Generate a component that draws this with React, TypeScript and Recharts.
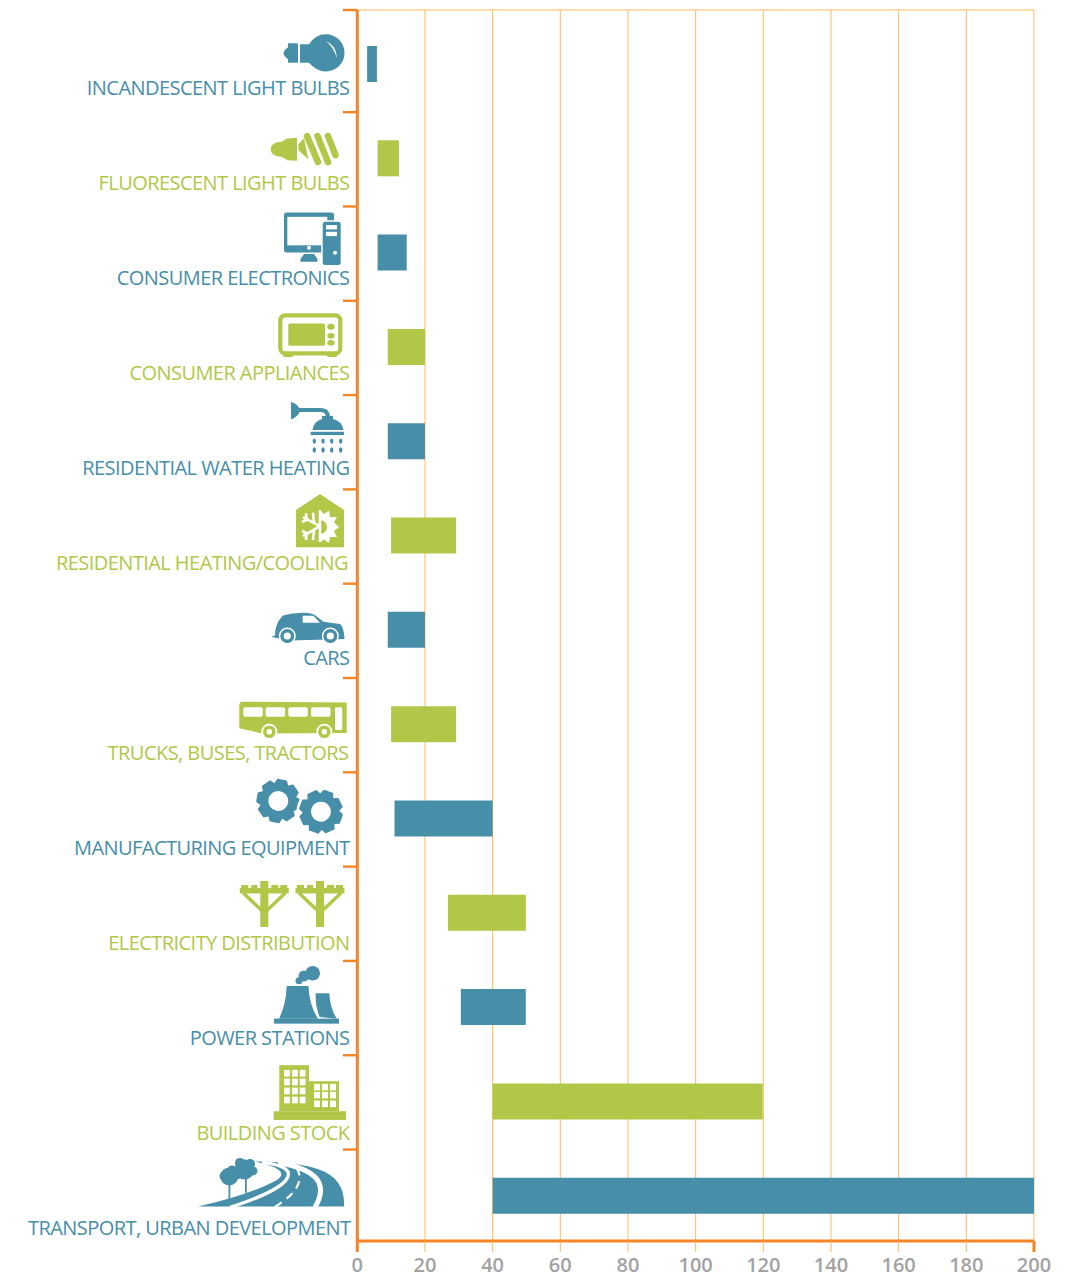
import React from 'react';
import { BarChart, Bar, XAxis, YAxis, CartesianGrid, Cell } from 'recharts';

// Sectors, top to bottom
const sectors = [
  'INCANDESCENT LIGHT BULBS',
  'FLUORESCENT LIGHT BULBS',
  'CONSUMER ELECTRONICS',
  'CONSUMER APPLIANCES',
  'RESIDENTIAL WATER HEATING',
  'RESIDENTIAL HEATING/COOLING',
  'CARS',
  'TRUCKS, BUSES, TRACTORS',
  'MANUFACTURING EQUIPMENT',
  'ELECTRICITY DISTRIBUTION',
  'POWER STATIONS',
  'BUILDING STOCK',
  'TRANSPORT, URBAN DEVELOPMENT',
];
const lowValues = [2.9, 6, 6, 9, 9, 10, 9, 10, 11, 26.8, 30.6, 40, 40];
const highValues = [5.8, 12.3, 14.6, 20, 20, 29.2, 20, 29.2, 40, 49.8, 49.8, 119.8, 200];
const xTicks = [0, 20, 40, 60, 80, 100, 120, 140, 160, 180, 200];

const data = sectors.map((name, i) => ({ name, range: [lowValues[i], highValues[i]] }));

const TEAL = '#478ea8';
const GREEN = '#b1c748';
const ORANGE = '#f58426';
const GRID = '#fdb95c';
const TICK_TEXT = '#a2a2a2';
const FONT = '"Open Sans", sans-serif';

const PLOT_LEFT = 357.3;
const PLOT_TOP = 10;
const PLOT_BOTTOM = 1241;
const BAND_STEP = 94.33;
const FIRST_CENTER = 64;
const LABEL_DRIFT = 0.67; // labels are spaced a little wider than the bars

const colorAt = (i: number) => (i % 2 === 0 ? TEAL : GREEN);

const labelNudge = (i: number) => (i === 5 ? -1.5 : i === 7 ? -1 : i === 12 ? 1 : 0);

const Gear = ({ cx, cy, rot }: { cx: number; cy: number; rot: number }) => (
  <g transform={`translate(${cx} ${cy}) rotate(${rot})`}>
    <circle r={24.5} fill="#fff" />
    {[0, 45, 90, 135, 180, 225, 270, 315].map((a) => (
      <path
        key={a}
        transform={`rotate(${a})`}
        d="M-7 -15 L-4.5 -21 L4.5 -21 L7 -15 Z"
        fill={TEAL}
        stroke={TEAL}
        strokeWidth={1.4}
        strokeLinejoin="round"
      />
    ))}
    <circle r={17.5} fill={TEAL} />
    <circle r={10} fill="#fff" />
  </g>
);

const Pole = ({ cx }: { cx: number }) => (
  <g fill={GREEN} stroke="none">
    <rect x={cx - 4} y={881} width={8} height={46} />
    <rect x={cx - 24.5} y={888} width={49} height={5.5} />
    <rect x={cx - 23} y={885} width={7} height={4} />
    <rect x={cx - 13} y={885} width={6} height={4} />
    <rect x={cx + 7} y={885} width={7} height={4} />
    <rect x={cx + 16} y={885} width={7} height={4} />
    <path d={`M${cx - 21} 893 L${cx - 2} 911`} stroke={GREEN} strokeWidth={3.5} />
    <path d={`M${cx + 21} 893 L${cx + 2} 911`} stroke={GREEN} strokeWidth={3.5} />
  </g>
);

// Icons are drawn in page coordinates of their own band, then shifted with the tick
const icons: React.ReactNode[] = [
  <g key="bulb" fill={TEAL}>
    <path d="M300 44 L309 44 Q316 34 326 34.2 A18.5 18.5 0 1 1 326 71.3 Q316 71 309 62.5 L300 62.5 Z" />
    <rect x={288} y={43} width={10} height={19.5} rx={1} />
    <path d="M288 47 Q283.6 50 283.6 53 Q283.6 56 288 59 Z" />
    <path d="M326 41 Q336 44 337 58 Q333 46 326 41 Z" fill="#fff" />
  </g>,
  <g key="cfl" fill={GREEN}>
    <path d="M297 137.5 L286 138.5 Q283 142 277 142 Q270.7 144 270.7 149 Q270.7 154 277 156 Q283 156 287 160 L297 160.7 Z" />
    <path d="M298.5 144 L304 138 L308.3 159 L298.5 150 Z" />
    <g stroke={GREEN} strokeWidth={6.5} strokeLinecap="round">
      <path d="M307 136 L318 162" />
      <path d="M317.5 136 L328 162" />
      <path d="M328 136 L335.5 155" />
    </g>
  </g>,
  <g key="pc" fill={TEAL}>
    <rect x={284} y={212.3} width={50} height={40} rx={2.5} />
    <rect x={287.3} y={216.7} width={40} height={28.5} fill="#fff" />
    <circle cx={309} cy={247.7} r={2} fill="#fff" />
    <path d="M304 254 L314 254 L317.5 259 L317.5 261.7 L300.5 261.7 L300.5 259 Z" />
    <rect x={321.2} y={220.2} width={21} height={46.5} rx={2.5} fill="#fff" />
    <rect x={322.7} y={221.7} width={18} height={43.3} rx={2.5} />
    <rect x={326} y={225} width={11} height={4.3} fill="#fff" />
    <rect x={326} y={231.7} width={11} height={4.3} fill="#fff" />
    <circle cx={335} cy={252.7} r={2} fill="#fff" />
  </g>,
  <g key="microwave" fill={GREEN}>
    <rect x={280.3} y={315.3} width={60} height={38} rx={5} fill="none" stroke={GREEN} strokeWidth={4.2} />
    <rect x={288.3} y={323.3} width={36.7} height={22.4} rx={1.5} />
    <ellipse cx={331} cy={326.7} rx={3.7} ry={3} />
    <ellipse cx={331} cy={335.7} rx={3.7} ry={2.8} />
    <ellipse cx={331} cy={342.7} rx={3.7} ry={2.8} />
    <rect x={283} y={354} width={10} height={3} rx={1.5} />
    <rect x={327} y={354} width={10} height={3} rx={1.5} />
  </g>,
  <g key="shower" fill={TEAL}>
    <path d="M291 402 Q296 403 299.3 408 L299.3 413 Q296 418 291 419.3 Z" />
    <path d="M298 410 L321 410 Q328 410 328 418" fill="none" stroke={TEAL} strokeWidth={4} />
    <path d="M312.5 430 Q314 421 322 419 L322 416 L333 416 L333 419 Q342 421 343.5 430 Z" />
    <rect x={310.7} y={431.7} width={33.3} height={3.3} />
    {[314.3, 323, 331.7, 340.7].map((x) => (
      <g key={x}>
        <ellipse cx={x} cy={441} rx={1.7} ry={2.6} />
        <ellipse cx={x} cy={450} rx={1.7} ry={2.8} />
      </g>
    ))}
  </g>,
  <g key="house">
    <path d="M296 547.3 L296 510 L320 494 L344 510 L344 547.3 Z" fill={GREEN} />
    <path
      d="M320 510 L324 514 L329 510.5 L330 517 L337 517 L334 522.5 L339 527 L334 531 L337 537 L330 537 L329 543 L324 539.5 L320 542 Z"
      fill="#fff"
    />
    <path d="M320 520 A7 7 0 0 1 320 534 Z" fill={GREEN} />
    <g stroke="#fff" strokeWidth={2.6} fill="none">
      <path d="M320 510 L320 542" />
      <path d="M320 526 L303 517 M320 526 L303 536" />
      <path d="M306 513 L306.5 520 L302 522 M306 540 L306.5 533 L302 531" />
      <path d="M313 512.5 L314 522 M313 540 L314 530" />
    </g>
  </g>,
  <g key="car" fill={TEAL}>
    <path d="M271 636.7 L275 635.5 Q275 623 283 615.5 Q292 612.8 303 612.7 Q310 612.5 314 614.5 L323.5 621.7 L340 624 Q344 627 344.5 639 L290 640.5 L277 638 Z" />
    <path d="M302.7 615.7 L313.3 615.7 L320 622.7 L302.7 622.7 Z" fill="#fff" />
    {[287.3, 330.3].map((x) => (
      <g key={x}>
        <circle cx={x} cy={636} r={8.5} fill="#fff" />
        <circle cx={x} cy={636} r={7} />
        <circle cx={x} cy={636} r={3.6} fill="#fff" />
      </g>
    ))}
  </g>,
  <g key="bus" fill={GREEN}>
    <path d="M241 701.7 L346.7 702.5 L346.7 733 L262 733.5 L239.3 728.3 L239.3 704 Z" />
    {[243.3, 265.7, 288.3, 311].map((x) => (
      <rect key={x} x={x} y={707.3} width={19.5} height={9.5} rx={2} fill="#fff" />
    ))}
    <rect x={335} y={707.3} width={7.3} height={22.7} rx={1.5} fill="#fff" />
    {[269.3, 324.3].map((x) => (
      <g key={x}>
        <circle cx={x} cy={731.7} r={8} fill="#fff" />
        <circle cx={x} cy={731.7} r={6.3} />
        <circle cx={x} cy={731.7} r={2.8} fill="#fff" />
      </g>
    ))}
  </g>,
  <g key="gears">
    <Gear cx={278.3} cy={801} rot={10} />
    <Gear cx={321} cy={811.7} rot={20} />
  </g>,
  <g key="poles">
    <Pole cx={264.3} />
    <Pole cx={320} />
  </g>,
  <g key="plant" fill={TEAL}>
    <rect x={274} y={1018.7} width={65} height={5} />
    <path d="M286.7 986 L308.5 986 Q309 1005 318 1018.7 L279 1018.7 Q286 1005 286.7 986 Z" />
    <path d="M315.7 993.3 L329.3 993.3 Q330 1008 336.7 1018.7 L319.5 1017 Q315 1005 315.7 993.3 Z" />
    <circle cx={312.7} cy={973.3} r={7.3} />
    <circle cx={304} cy={976} r={5.5} />
    <circle cx={299} cy={980.7} r={3.5} />
  </g>,
  <g key="buildings" fill={GREEN}>
    <rect x={273.7} y={1111.3} width={72.3} height={8.7} />
    <rect x={279.3} y={1065.3} width={29.7} height={46} />
    <rect x={309} y={1081.3} width={30} height={30} />
    {[284, 292, 299.7].flatMap((x) =>
      [1070, 1078.7, 1087.7, 1096.7].map((y) => (
        <rect key={`${x}-${y}`} x={x} y={y} width={5.8} height={6.7} fill="#fff" />
      ))
    )}
    {[314, 322, 330].flatMap((x) =>
      [1084, 1092, 1100.7].map((y) => (
        <rect key={`${x}-${y}`} x={x} y={y} width={6} height={6.5} fill="#fff" />
      ))
    )}
  </g>,
  <g key="road" fill={TEAL}>
    <path d="M255 1161.7 Q310 1162 330 1175 Q345 1185 344 1206.7 L198.3 1206.7 Q250 1195 277 1180 Q292 1170 255 1161.7 Z" />
    <path d="M230 1207.5 Q293 1187 288 1172 Q284 1165 262 1162.5" fill="none" stroke="#fff" strokeWidth={3.4} />
    <path d="M315 1207.5 Q336 1172 278 1162.8" fill="none" stroke="#fff" strokeWidth={5} />
    <path d="M275 1207 Q309 1186 296 1167" fill="none" stroke="#fff" strokeWidth={2.2} strokeDasharray="8 6" />
    <rect x={228.5} y={1182} width={1.8} height={18} />
    <rect x={245} y={1175} width={1.8} height={18} />
    <circle cx={229.3} cy={1176.5} r={9} />
    <circle cx={224} cy={1176} r={4.5} />
    <circle cx={232} cy={1170} r={4.5} />
    <circle cx={244.5} cy={1169.5} r={10} />
    <circle cx={240} cy={1163} r={5} />
    <circle cx={250} cy={1164} r={5} />
    <circle cx={253} cy={1171} r={4.5} />
    <circle cx={238} cy={1174} r={5} />
  </g>,
];

const SectorTick = (props: any) => {
  const { y, index, payload } = props;
  const color = colorAt(index);
  const shift = y - (FIRST_CENTER + BAND_STEP * index);
  return (
    <g>
      <g transform={`translate(0 ${shift})`}>{icons[index]}</g>
      <text
        x={349.5 + labelNudge(index)}
        y={y + 31 + LABEL_DRIFT * index}
        textAnchor="end"
        fill={color}
        fontFamily={FONT}
        fontSize={20}
        letterSpacing={-0.55}
      >
        {payload.value}
      </text>
      {index < sectors.length - 1 && (
        <line x1={343} x2={PLOT_LEFT} y1={y + 48} y2={y + 48} stroke={ORANGE} strokeWidth={2.4} />
      )}
      {index === 0 && (
        <line x1={343} x2={PLOT_LEFT} y1={PLOT_TOP} y2={PLOT_TOP} stroke={ORANGE} strokeWidth={2.4} />
      )}
    </g>
  );
};

const ValueTick = (props: any) => {
  const { x, payload } = props;
  const edge = payload.value === 0 || payload.value === 200;
  return (
    <g>
      <line
        x1={x}
        x2={x}
        y1={PLOT_BOTTOM}
        y2={1252}
        stroke={edge ? ORANGE : GRID}
        strokeWidth={edge ? 3 : 1}
      />
      <text
        x={x}
        y={1272}
        textAnchor="middle"
        fill={TICK_TEXT}
        fontFamily={FONT}
        fontWeight={600}
        fontSize={20}
      >
        {payload.value}
      </text>
    </g>
  );
};

export default function App() {
  return (
    <div style={{ position: 'absolute', left: 0, top: 0, width: 1073, height: 1272, background: '#fff', overflow: 'hidden' }}>
      <BarChart
        width={1073}
        height={1272}
        data={data}
        layout="vertical"
        margin={{ top: PLOT_TOP, right: 39, bottom: 0, left: 0 }}
        barCategoryGap={0}
      >
        <CartesianGrid stroke={GRID} strokeWidth={1} horizontalPoints={[PLOT_TOP]} />
        <XAxis
          type="number"
          domain={[0, 200]}
          ticks={xTicks}
          interval={0}
          height={31}
          tick={<ValueTick />}
          tickLine={false}
          axisLine={{ stroke: ORANGE, strokeWidth: 3 }}
        />
        <YAxis
          type="category"
          dataKey="name"
          width={PLOT_LEFT}
          interval={0}
          padding={{ top: 7, bottom: -2 }}
          tick={<SectorTick />}
          tickLine={false}
          axisLine={{ stroke: ORANGE, strokeWidth: 3 }}
        />
        <Bar dataKey="range" barSize={36} isAnimationActive={false}>
          {sectors.map((name, i) => (
            <Cell key={name} fill={colorAt(i)} />
          ))}
        </Bar>
      </BarChart>
    </div>
  );
}
